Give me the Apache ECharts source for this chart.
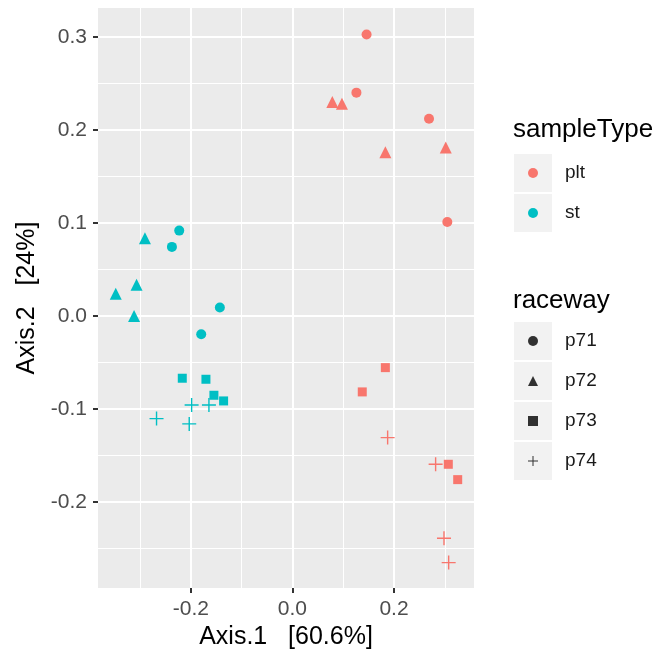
<!DOCTYPE html>
<html>
<head>
<meta charset="utf-8">
<script src="https://cdn.jsdelivr.net/npm/echarts@6/dist/echarts.min.js"></script>
<style>
  html, body { margin: 0; padding: 0; background: #fff; }
  #chart { width: 661px; height: 650px; }
</style>
</head>
<body>
<div id="chart"></div>
<script>
// PCoA 좌표 (sampleType x raceway)
const pltP71 = [[0.146, 0.3025], [0.126, 0.240], [0.269, 0.212], [0.305, 0.101]];
const pltP72 = [[0.0785, 0.230], [0.0975, 0.228], [0.183, 0.176], [0.302, 0.181]];
const pltP73 = [[0.183, -0.0556], [0.1375, -0.0817], [0.307, -0.1595], [0.3255, -0.176]];
const pltP74 = [[0.1875, -0.1308], [0.282, -0.1595], [0.2985, -0.239], [0.3077, -0.2652]];
const stP71 = [[-0.223, 0.0917], [-0.2374, 0.0742], [-0.143, 0.009], [-0.1797, -0.0197]];
const stP72 = [[-0.2906, 0.0835], [-0.307, 0.0334], [-0.348, 0.0237], [-0.312, 0.0]];
const stP73 = [[-0.217, -0.067], [-0.1704, -0.0681], [-0.1547, -0.0853], [-0.1356, -0.0914]];
const stP74 = [[-0.1986, -0.0957], [-0.1645, -0.0957], [-0.2677, -0.1104], [-0.2033, -0.1161]];

const sampleTypes = ['plt', 'st'];
const raceways = ['p71', 'p72', 'p73', 'p74'];

const xTicks = [-0.2, 0.0, 0.2];
const xMinorTicks = [-0.3, -0.1, 0.1, 0.3];
const yTicks = [-0.2, -0.1, 0.0, 0.1, 0.2, 0.3];
const yMinorTicks = [-0.25, -0.15, -0.05, 0.05, 0.15, 0.25];

const typeColors = { plt: '#F8766D', st: '#00BFC4' };
const plusPath = 'path://M9,0 H11 V9 H20 V11 H11 V20 H9 V11 H0 V9 H9 Z';
const shapes = {
	p71: { symbol: 'circle', size: 10 },
	p72: { symbol: 'triangle', size: 12 },
	p73: { symbol: 'rect', size: 9 },
	p74: { symbol: plusPath, size: 14 }
};

const groups = {
	plt: { p71: pltP71, p72: pltP72, p73: pltP73, p74: pltP74 },
	st: { p71: stP71, p72: stP72, p73: stP73, p74: stP74 }
};

const FONT = 'Liberation Sans, Arial, Helvetica, sans-serif';
const xMin = -0.383, xMax = 0.3576;
const yMin = -0.2925, yMax = 0.331;

const chart = echarts.init(document.getElementById('chart'), null, { renderer: 'canvas' });

const series = [];
// 보조 격자선 (minor grid) - 점보다 아래에
series.push({
	name: 'minorGrid',
	type: 'scatter',
	data: [],
	silent: true,
	z: 1,
	markLine: {
		silent: true,
		symbol: 'none',
		animation: false,
		z: 1,
		label: { show: false },
		lineStyle: { color: '#ffffff', width: 1, type: 'solid', opacity: 1 },
		emphasis: { disabled: true },
		data: xMinorTicks.map(v => ({ xAxis: v }))
			.concat(yMinorTicks.map(v => ({ yAxis: v })))
	}
});
sampleTypes.forEach(t => {
	raceways.forEach(r => {
		series.push({
			name: t,
			type: 'scatter',
			data: groups[t][r],
			symbol: shapes[r].symbol,
			symbolSize: shapes[r].size,
			itemStyle: { color: typeColors[t], opacity: 1 },
			z: 10,
			silent: true
		});
	});
});
// 범례용 (raceway 모양)
raceways.forEach(r => {
	series.push({
		name: r,
		type: 'scatter',
		data: [],
		symbol: shapes[r].symbol,
		itemStyle: { color: '#000' }
	});
});

// 범례 배경 박스
const keyBoxes = [];
[154, 194, 322, 362, 402, 442].forEach(top => {
	keyBoxes.push({
		type: 'rect',
		left: 514,
		top: top,
		shape: { width: 38, height: 38 },
		style: { fill: '#F2F2F2' },
		z: 0
	});
});

const option = {
	backgroundColor: '#ffffff',
	animation: false,
	textStyle: { fontFamily: FONT },
	grid: {
		left: 98,
		right: 187,
		top: 8,
		bottom: 62,
		show: true,
		backgroundColor: '#EBEBEB',
		borderWidth: 0,
		outerBoundsMode: 'none',
		containLabel: false
	},
	xAxis: {
		type: 'value',
		min: xMin,
		max: xMax,
		name: 'Axis.1   [60.6%]',
		nameLocation: 'middle',
		nameGap: 36,
		nameTextStyle: { fontSize: 25, color: '#000', fontFamily: FONT },
		axisLine: { show: false, onZero: false },
		axisTick: { show: true, length: 5, lineStyle: { color: '#333', width: 2 }, customValues: xTicks },
		axisLabel: {
			customValues: xTicks,
			fontSize: 21,
			color: '#4D4D4D',
			margin: 11,
			fontFamily: FONT,
			formatter: v => v.toFixed(1)
		},
		splitLine: { show: true, lineStyle: { color: '#ffffff', width: 2 } }
	},
	yAxis: {
		type: 'value',
		min: yMin,
		max: yMax,
		name: 'Axis.2   [24%]',
		nameLocation: 'middle',
		nameGap: 51,
		nameTextStyle: { fontSize: 25, color: '#000', fontFamily: FONT },
		axisLine: { show: false, onZero: false },
		axisTick: { show: true, length: 5, lineStyle: { color: '#333', width: 2 }, customValues: yTicks },
		axisLabel: {
			customValues: yTicks,
			fontSize: 21,
			color: '#4D4D4D',
			margin: 11,
			fontFamily: FONT,
			formatter: v => v.toFixed(1)
		},
		splitLine: { show: true, lineStyle: { color: '#ffffff', width: 2 } }
	},
	legend: [
		{
			orient: 'vertical',
			left: 528,
			top: 163,
			padding: 0,
			itemWidth: 10,
			itemHeight: 10,
			itemGap: 20,
			selectedMode: false,
			icon: 'circle',
			data: sampleTypes,
			textStyle: { fontSize: 19, color: '#1A1A1A', lineHeight: 20, padding: [0, 0, 0, 22], fontFamily: FONT }
		},
		{
			orient: 'vertical',
			left: 528,
			top: 331,
			padding: 0,
			itemWidth: 10,
			itemHeight: 10,
			itemGap: 20,
			selectedMode: false,
			data: raceways.map(r => ({ name: r, icon: shapes[r].symbol })),
			textStyle: { fontSize: 19, color: '#1A1A1A', lineHeight: 20, padding: [0, 0, 0, 22], fontFamily: FONT }
		}
	],
	graphic: keyBoxes.concat([
		{
			type: 'text',
			left: 513,
			top: 117,
			style: { text: 'sampleType', fontSize: 26, fill: '#000', fontFamily: FONT }
		},
		{
			type: 'text',
			left: 513,
			top: 288,
			style: { text: 'raceway', fontSize: 26, fill: '#000', fontFamily: FONT }
		}
	]),
	series: series
};

chart.setOption(option);
</script>
</body>
</html>
